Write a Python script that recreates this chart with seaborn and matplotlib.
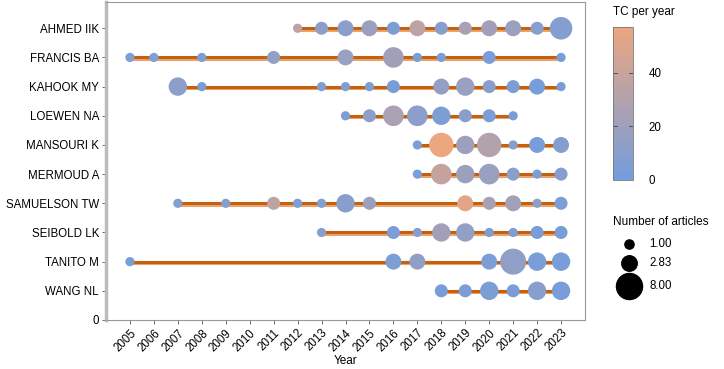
import numpy as np
import pandas as pd
import matplotlib
matplotlib.use('Agg')
import matplotlib.pyplot as plt
import matplotlib.patheffects as pe
from matplotlib.colors import LinearSegmentedColormap, Normalize
import seaborn as sns

# Authors top to bottom
authors = ['AHMED IIK', 'FRANCIS BA', 'KAHOOK MY', 'LOEWEN NA', 'MANSOURI K',
           'MERMOUD A', 'SAMUELSON TW', 'SEIBOLD LK', 'TANITO M', 'WANG NL']

# long format: author, year, number of articles, TC per year
author_col = (['AHMED IIK'] * 12 + ['FRANCIS BA'] * 10 + ['KAHOOK MY'] * 12 +
              ['LOEWEN NA'] * 8 + ['MANSOURI K'] * 7 + ['MERMOUD A'] * 7 +
              ['SAMUELSON TW'] * 12 + ['SEIBOLD LK'] * 9 + ['TANITO M'] * 7 +
              ['WANG NL'] * 6)
year = [2012, 2013, 2014, 2015, 2016, 2017, 2018, 2019, 2020, 2021, 2022, 2023,
        2005, 2006, 2008, 2011, 2014, 2016, 2017, 2018, 2020, 2023,
        2007, 2008, 2013, 2014, 2015, 2016, 2018, 2019, 2020, 2021, 2022, 2023,
        2014, 2015, 2016, 2017, 2018, 2019, 2020, 2021,
        2017, 2018, 2019, 2020, 2021, 2022, 2023,
        2017, 2018, 2019, 2020, 2021, 2022, 2023,
        2007, 2009, 2011, 2012, 2013, 2014, 2015, 2019, 2020, 2021, 2022, 2023,
        2013, 2016, 2017, 2018, 2019, 2020, 2021, 2022, 2023,
        2005, 2016, 2017, 2020, 2021, 2022, 2023,
        2018, 2019, 2020, 2021, 2022, 2023]
articles = [1, 2, 3, 3, 2, 3, 2, 2, 3, 3, 2, 6,
            1, 1, 1, 2, 3, 5, 1, 1, 2, 1,
            4, 1, 1, 1, 1, 2, 3, 4, 2, 2, 3, 1,
            1, 2, 5, 5, 4, 2, 2, 1,
            1, 7, 4, 7, 1, 3, 3,
            1, 5, 4, 5, 2, 1, 2,
            1, 1, 2, 1, 1, 4, 2, 3, 2, 3, 1, 2,
            1, 2, 1, 4, 4, 1, 1, 2, 2,
            1, 3, 3, 3, 8, 4, 4,
            2, 2, 4, 2, 4, 4]
tc_per_year = [35, 12, 12, 18, 5, 35, 10, 25, 22, 18, 10, 8,
               6, 6, 5, 15, 18, 22, 4, 5, 4, 2,
               12, 3, 6, 6, 4, 3, 15, 18, 10, 5, 2, 3,
               4, 12, 26, 12, 5, 10, 4, 3,
               4, 57, 20, 30, 10, 3, 8,
               4, 38, 20, 18, 12, 4, 8,
               8, 8, 36, 5, 6, 10, 18, 52, 25, 22, 12, 4,
               10, 4, 8, 22, 15, 5, 4, 3, 3,
               3, 5, 14, 4, 14, 4, 3,
               3, 4, 5, 5, 10, 3]

df = pd.DataFrame({'Author': author_col, 'Year': year,
                   'Articles': articles, 'TC': tc_per_year})
pos = {a: len(authors) - i for i, a in enumerate(authors)}
df['ypos'] = df.Author.map(pos)

cmap = LinearSegmentedColormap.from_list('tc', ['#739ddd', '#eca680'])
norm = Normalize(0, 57)

plt.rcParams['font.family'] = ['Liberation Sans', 'DejaVu Sans']
fig = plt.figure(figsize=(7.24, 3.69), dpi=100)
ax = fig.add_axes([106 / 724, 1 - 320 / 369, 479 / 724, 318 / 369])

# timeline per author
for a in authors:
    sub = df[df.Author == a].sort_values('Year')
    ax.plot(sub.Year, sub.ypos, color='#c4600e', lw=2.2, zorder=1,
            solid_capstyle='butt',
            path_effects=[pe.SimpleLineShadow(offset=(0, -1.0), shadow_color='#e6a470', alpha=1),
                          pe.Normal()])

sns.scatterplot(data=df, x='Year', y='ypos', hue='TC', size='Articles',
                palette=cmap, hue_norm=norm, sizes=(44, 352), size_norm=(1, 8),
                linewidth=0, alpha=1, legend=False, ax=ax, zorder=2)

ax.set_xlim(2004, 2024)
ax.set_ylim(0, 10.9)
ax.set_xticks(range(2005, 2024))
ax.set_xticklabels([str(y) for y in range(2005, 2024)], rotation=45, ha='right',
                   rotation_mode='anchor', fontsize=8.3)
ax.set_yticks([0] + [pos[a] for a in authors])
ax.set_yticklabels(['0'] + authors, fontsize=8.3)
ax.tick_params(axis='both', length=3, color='#555555', width=0.6, pad=2)
ax.set_xlabel('Year', fontsize=8.5, labelpad=1)
ax.set_ylabel('')
for s in ['top', 'right', 'bottom']:
    ax.spines[s].set_color('#999999')
    ax.spines[s].set_linewidth(0.8)
ax.spines['left'].set_color('#bbbbbb')
ax.spines['left'].set_linewidth(2.5)

# colorbar
cax = fig.add_axes([613 / 724, 1 - 180 / 369, 20 / 724, 153 / 369])
cb = fig.colorbar(plt.cm.ScalarMappable(norm=norm, cmap=cmap), cax=cax, ticks=[0, 20, 40])
cb.outline.set_edgecolor('#777777')
cb.outline.set_linewidth(0.6)
cax.tick_params(length=0, labelsize=8.3, pad=11)
for t in [20, 40]:
    cax.plot([0, 0.18], [t, t], color='#444444', lw=0.6, transform=cax.get_yaxis_transform())
    cax.plot([0.82, 1], [t, t], color='#444444', lw=0.6, transform=cax.get_yaxis_transform())
fig.text(613 / 724, 1 - 12 / 369, 'TC per year', fontsize=8.5, va='center')

# size legend
fig.text(613 / 724, 1 - 222 / 369, 'Number of articles', fontsize=8.5, va='center')
for n, lab, yy in [(1, '1.00', 244), (2.83, '2.83', 263), (8, '8.00', 286)]:
    fig.add_artist(plt.Line2D([629 / 724], [1 - yy / 369], marker='o', color='black',
                              markersize=np.sqrt(44 * n), linestyle='none'))
    fig.text(649 / 724, 1 - yy / 369, lab, fontsize=8.3, va='center')

fig.savefig('out.png', dpi=100)
